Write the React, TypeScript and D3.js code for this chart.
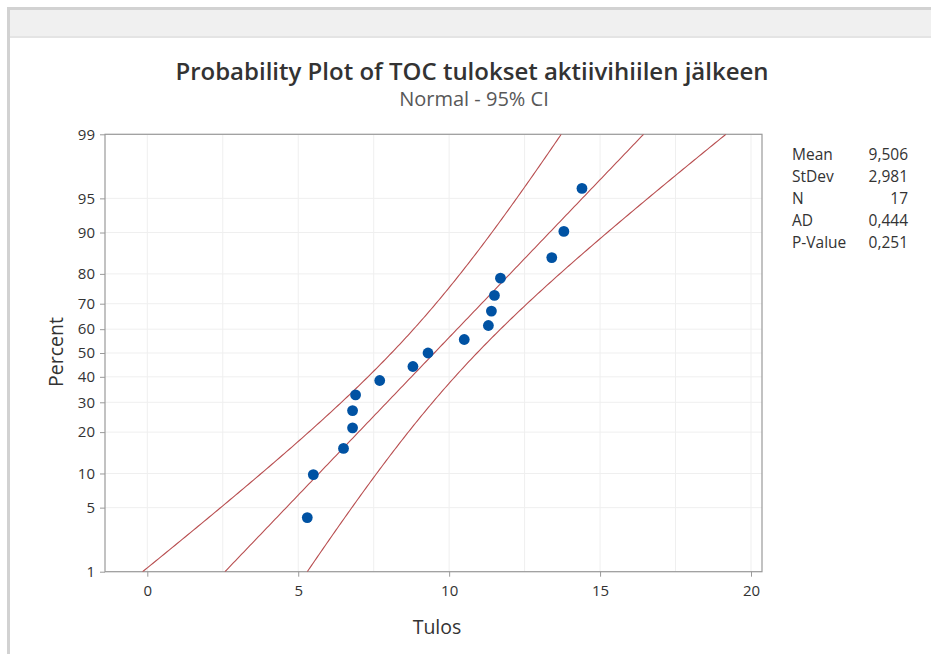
import React, { useEffect, useRef } from 'react';
import * as d3 from 'd3';

const W = 931;
const H = 654;

// observed values (Tulos), sorted
const tulos = [5.3, 5.5, 6.5, 6.8, 6.8, 6.9, 7.7, 8.8, 9.3, 10.5, 11.3, 11.4, 11.5, 11.7, 13.4, 13.8, 14.4];
// plotted percent for each observation
const percents = [4.0, 9.8, 15.5, 21.3, 27.0, 32.8, 38.5, 44.3, 50.0, 55.7, 61.5, 67.2, 73.0, 78.7, 84.5, 90.2, 96.0];

const yTicks = [1, 5, 10, 20, 30, 40, 50, 60, 70, 80, 90, 95, 99];
const xTicks = [0, 5, 10, 15, 20];
const xGrid = [0, 2.5, 5, 7.5, 10, 12.5, 15, 17.5, 20];

const statLabels = ['Mean', 'StDev', 'N', 'AD', 'P-Value'];
const statValues = ['9,506', '2,981', '17', '0,444', '0,251'];

// fit parameters (shown in the stats box)
const mean = 9.506;
const stdev = 2.981;
const n = 17;

// plot frame
const left = 105, right = 762, top = 134.3, bottom = 571.7;

// inverse normal cdf (Acklam)
function probit(p: number) {
  const a = [-39.69683028665376, 220.9460984245205, -275.9285104469687, 138.357751867269, -30.66479806614716, 2.506628277459239];
  const b = [-54.47609879822406, 161.5858368580409, -155.6989798598866, 66.80131188771972, -13.28068155288572];
  const c = [-0.007784894002430293, -0.3223964580411365, -2.400758277161838, -2.549732539343734, 4.374664141464968, 2.938163982698783];
  const d = [0.007784695709041462, 0.3224671290700398, 2.445134137142996, 3.754408661907416];
  const pl = 0.02425;
  if (p < pl) {
    const q = Math.sqrt(-2 * Math.log(p));
    return (((((c[0] * q + c[1]) * q + c[2]) * q + c[3]) * q + c[4]) * q + c[5]) / ((((d[0] * q + d[1]) * q + d[2]) * q + d[3]) * q + 1);
  }
  if (p > 1 - pl) {
    const q = Math.sqrt(-2 * Math.log(1 - p));
    return -(((((c[0] * q + c[1]) * q + c[2]) * q + c[3]) * q + c[4]) * q + c[5]) / ((((d[0] * q + d[1]) * q + d[2]) * q + d[3]) * q + 1);
  }
  const q = p - 0.5;
  const r = q * q;
  return (((((a[0] * r + a[1]) * r + a[2]) * r + a[3]) * r + a[4]) * r + a[5]) * q / (((((b[0] * r + b[1]) * r + b[2]) * r + b[3]) * r + b[4]) * r + 1);
}

const FONT = "'Open Sans', 'Noto Sans', sans-serif";
const TEXT = '#333333';
const LINE = '#b84e50';

export default function App() {
  const ref = useRef<SVGSVGElement>(null);

  useEffect(() => {
    const svg = d3.select(ref.current);
    svg.selectAll('*').remove();

    // window chrome
    svg.append('rect').attr('x', 7).attr('y', 7).attr('width', W).attr('height', H).attr('fill', '#d2d2d2');
    svg.append('rect').attr('x', 10).attr('y', 10).attr('width', W).attr('height', 26).attr('fill', '#f0f0f0');
    svg.append('rect').attr('x', 10).attr('y', 36).attr('width', W).attr('height', 2).attr('fill', '#e4e4e4');
    svg.append('rect').attr('x', 10).attr('y', 38).attr('width', W).attr('height', H).attr('fill', '#ffffff');

    const x = d3.scaleLinear().domain([0, 20]).range([147.3, 751]);
    const zMin = probit(0.01), zMax = probit(0.99);
    const y = d3.scaleLinear().domain([zMin, zMax]).range([bottom, top]);

    // grid
    const g = svg.append('g');
    g.selectAll('.vg').data(xGrid).enter().append('line')
      .attr('x1', d => x(d)).attr('x2', d => x(d))
      .attr('y1', top).attr('y2', bottom)
      .attr('stroke', '#efefef').attr('stroke-width', 1);
    g.selectAll('.hg').data(yTicks).enter().append('line')
      .attr('x1', left).attr('x2', right)
      .attr('y1', d => y(probit(d / 100))).attr('y2', d => y(probit(d / 100)))
      .attr('stroke', '#efefef').attr('stroke-width', 1);

    // axes
    const yAxis = d3.axisLeft(y)
      .tickValues(yTicks.map(p => probit(p / 100)))
      .tickFormat((_d, i) => String(yTicks[i]))
      .tickSize(5).tickPadding(5).tickSizeOuter(0);
    const ya = svg.append('g').attr('transform', `translate(${left},0)`).call(yAxis);

    const xAxis = d3.axisBottom(x).tickValues(xTicks).tickFormat(d3.format('d'))
      .tickSize(5).tickPadding(9).tickSizeOuter(0);
    const xa = svg.append('g').attr('transform', `translate(0,${bottom})`).call(xAxis);

    [ya, xa].forEach(a => {
      a.select('.domain').remove();
      a.selectAll('line').attr('stroke', '#9a9a9a');
      a.selectAll('text').attr('fill', TEXT).style('font-family', FONT).style('font-size', '15px');
    });

    svg.append('rect')
      .attr('x', left).attr('y', top).attr('width', right - left).attr('height', bottom - top)
      .attr('fill', 'none').attr('stroke', '#9a9a9a').attr('stroke-width', 1.2);

    // fitted line and 95% confidence band
    svg.append('clipPath').attr('id', 'plotclip').append('rect')
      .attr('x', left).attr('y', top).attr('width', right - left).attr('height', bottom - top);
    const zs = d3.range(0, 201).map(i => zMin + (zMax - zMin) * i / 200);
    const half = (z: number) => 1.959964 * stdev * Math.sqrt((1 + z * z / 2) / n);
    const line = d3.line<number[]>().x(d => x(d[0])).y(d => y(d[1]));
    const curves = [
      zs.map(z => [mean + z * stdev - half(z), z]),
      zs.map(z => [mean + z * stdev, z]),
      zs.map(z => [mean + z * stdev + half(z), z]),
    ];
    svg.append('g').attr('clip-path', 'url(#plotclip)')
      .selectAll('path').data(curves).enter().append('path')
      .attr('d', d => line(d))
      .attr('fill', 'none').attr('stroke', LINE).attr('stroke-width', 1.1);

    // points
    svg.append('g').selectAll('circle').data(tulos).enter().append('circle')
      .attr('cx', d => x(d))
      .attr('cy', (_d, i) => y(probit(percents[i] / 100)))
      .attr('r', 5.4)
      .attr('fill', '#0052a3');

    // titles
    svg.append('text').attr('x', 472).attr('y', 80).attr('text-anchor', 'middle')
      .style('font-family', FONT).style('font-size', '24px').style('font-weight', 600)
      .attr('fill', TEXT).text('Probability Plot of TOC tulokset aktiivihiilen jälkeen');
    svg.append('text').attr('x', 474).attr('y', 106).attr('text-anchor', 'middle')
      .style('font-family', FONT).style('font-size', '20px')
      .attr('fill', '#585858').text('Normal - 95% CI');

    svg.append('text').attr('transform', 'translate(63,352) rotate(-90)').attr('text-anchor', 'middle')
      .style('font-family', FONT).style('font-size', '19.5px')
      .attr('fill', TEXT).text('Percent');
    svg.append('text').attr('x', 437).attr('y', 634).attr('text-anchor', 'middle')
      .style('font-family', FONT).style('font-size', '19.5px')
      .attr('fill', TEXT).text('Tulos');

    // stats box
    const st = svg.append('g').style('font-family', FONT).style('font-size', '15.5px').attr('fill', TEXT);
    st.selectAll('.lab').data(statLabels).enter().append('text')
      .attr('x', 792).attr('y', (_d, i) => 160 + i * 21.9).text(d => d);
    st.selectAll('.val').data(statValues).enter().append('text')
      .attr('x', 908).attr('y', (_d, i) => 160 + i * 21.9).attr('text-anchor', 'end').text(d => d);
  }, []);

  return (
    <svg ref={ref} width={W} height={H}
      style={{ position: 'absolute', left: 0, top: 0, display: 'block', background: '#fff' }} />
  );
}
